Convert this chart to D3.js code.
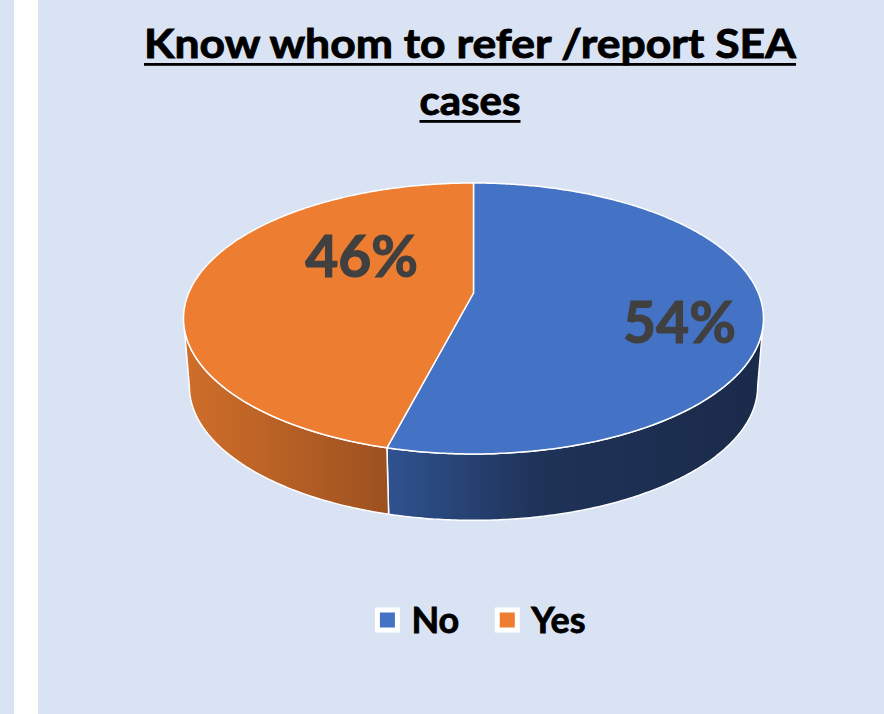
<!DOCTYPE html>
<html>
<head>
<meta charset="utf-8">
<script src="https://cdn.jsdelivr.net/npm/d3@7"></script>
<style>
  body { margin: 0; background: #dae3f3; }
  svg { display: block; font-family: Lato, "Open Sans", sans-serif; }
</style>
</head>
<body>
<svg id="chart" width="884" height="714"></svg>
<script>
// chart data
const categories = ["No", "Yes"];
const values = [54, 46];
const titleLines = ["Know whom to refer /report SEA", "cases"];

const topColors = ["#4472c4", "#ed7d31"];
const sideStops = [
  [["0%", "#2f5290"], ["40%", "#1f3358"], ["100%", "#1a2a4a"]],
  [["0%", "#cf6e2a"], ["100%", "#9d5120"]]
];

const svg = d3.select("#chart");
const W = 884, H = 714;

svg.append("rect").attr("width", W).attr("height", H).attr("fill", "#dae3f3");
svg.append("rect").attr("x", 14).attr("width", 24).attr("height", H).attr("fill", "#ffffff");

// perspective tilted disc (top face) + extruded side
const pie3d = {cx: 473.5, cy: 293, A: 284.8, B: 130.7, c: 0.188, depth: 68, sx: 0.98, sy: 0.99};

function topPt(theta, r = 1) {
  const u = r * Math.sin(theta), v = -r * Math.cos(theta), w = 1 - pie3d.c * v;
  return [pie3d.cx + pie3d.A * u / w, pie3d.cy + pie3d.B * v / w];
}
function botPt(theta) {
  const p = topPt(theta);
  return [pie3d.cx + (p[0] - pie3d.cx) * pie3d.sx, pie3d.cy + (p[1] - pie3d.cy) * pie3d.sy + pie3d.depth];
}
function arcPts(fn, a0, a1) {
  const n = Math.max(2, Math.ceil(Math.abs(a1 - a0) / 0.01));
  return d3.range(n + 1).map(i => fn(a0 + (a1 - a0) * i / n));
}

const pie = d3.pie().sort(null).value(d => d)(values);
const line = d3.line();

// gradients for the sides
const defs = svg.append("defs");
sideStops.forEach((stops, i) => {
  const g = defs.append("linearGradient")
      .attr("id", `side-${i}`)
      .attr("gradientUnits", "userSpaceOnUse")
      .attr("x1", i === 0 ? 388 : 186).attr("x2", i === 0 ? 762 : 388)
      .attr("y1", 0).attr("y2", 0);
  stops.forEach(s => g.append("stop").attr("offset", s[0]).attr("stop-color", s[1]));
});

// visible front range of the side wall
const thR = Math.acos(-pie3d.c), thL = 2 * Math.PI - thR;

const sides = svg.append("g");
pie.forEach((d, i) => {
  const a0 = Math.max(d.startAngle, thR), a1 = Math.min(d.endAngle, thL);
  if (a1 <= a0) return;
  const pts = arcPts(topPt, a0, a1).concat(arcPts(botPt, a1, a0));
  sides.append("path")
      .attr("d", line(pts) + "Z")
      .attr("fill", `url(#side-${i})`)
      .attr("stroke", "#ffffff")
      .attr("stroke-width", 1.5)
      .attr("stroke-linejoin", "round");
});

const tops = svg.append("g");
pie.forEach((d, i) => {
  const pts = [topPt(0, 0)].concat(arcPts(topPt, d.startAngle, d.endAngle));
  tops.append("path")
      .attr("d", line(pts) + "Z")
      .attr("fill", topColors[i])
      .attr("stroke", "#ffffff")
      .attr("stroke-width", 1.5)
      .attr("stroke-linejoin", "round");
});

// data labels: radius and angle shift relative to the slice middle
const labelPlace = [{r: 0.726, shift: 0.17}, {r: 0.512, shift: 0.50}];
pie.forEach((d, i) => {
  const mid = (d.startAngle + d.endAngle) / 2 + labelPlace[i].shift;
  const p = topPt(mid, labelPlace[i].r);
  svg.append("text")
      .attr("x", p[0]).attr("y", p[1] + 21)
      .attr("text-anchor", "middle")
      .attr("font-size", 57)
      .attr("font-weight", 700)
      .attr("fill", "#404040")
      .attr("stroke", "#404040")
      .attr("stroke-width", 1.2)
      .text(d3.format(".0%")(d.data / d3.sum(values)));
});

// title
const titleW = [652, 101];
titleLines.forEach((t, i) => {
  const y = 58 + i * 57;
  svg.append("text")
      .attr("x", 470).attr("y", y)
      .attr("text-anchor", "middle")
      .attr("font-size", 40)
      .attr("font-weight", 700)
      .attr("fill", "#000000")
      .attr("stroke", "#000000")
      .attr("stroke-width", 0.9)
      .attr("textLength", titleW[i])
      .attr("lengthAdjust", "spacingAndGlyphs")
      .text(t);
  svg.append("rect")
      .attr("x", 470 - titleW[i] / 2).attr("y", y + 5)
      .attr("width", titleW[i]).attr("height", 2.8)
      .attr("fill", "#000000");
});

// legend
const legend = svg.append("g");
let lx = 0;
categories.forEach((c, i) => {
  const item = legend.append("g").attr("transform", `translate(${lx},0)`);
  item.append("rect")
      .attr("x", 0).attr("y", -10).attr("width", 20).attr("height", 20)
      .attr("fill", topColors[i])
      .attr("stroke", "#ffffff").attr("stroke-width", 5);
  const t = item.append("text")
      .attr("x", 34).attr("y", 13)
      .attr("font-size", 36)
      .attr("font-weight", 700)
      .attr("fill", "#000000")
      .attr("stroke", "#000000")
      .attr("stroke-width", 0.8)
      .text(c);
  lx += 34 + t.node().getComputedTextLength() + 38;
});
const lw = lx - 38;
legend.attr("transform", `translate(${481.5 - lw / 2},620)`);
</script>
</body>
</html>
